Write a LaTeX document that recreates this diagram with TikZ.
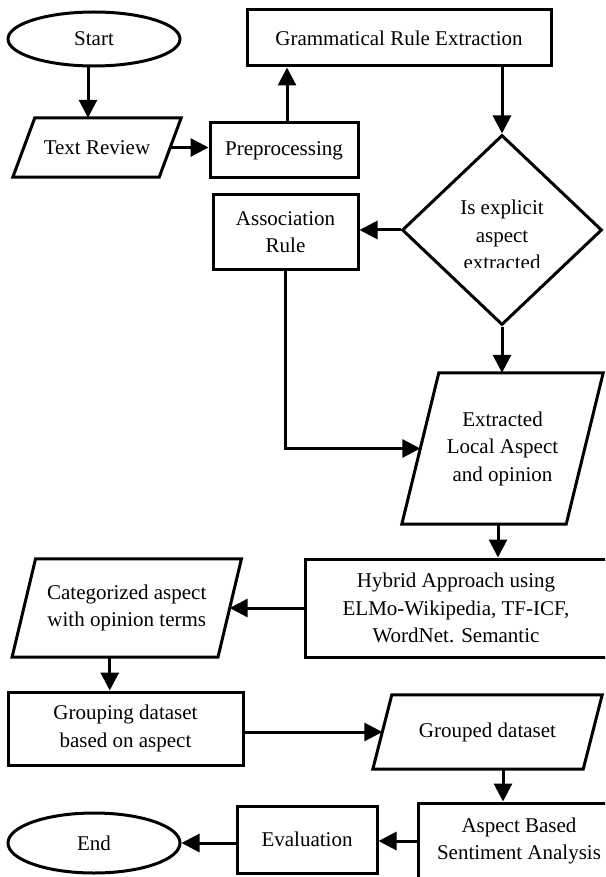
\documentclass[tikz,border=0pt]{standalone}
\usepackage{fontspec}
\setmainfont{Liberation Serif}
\usetikzlibrary{shapes.geometric,arrows.meta}
\newcommand\paraline[2]{\draw[outline] ([xshift=#2]#1.north west) -- ([xshift=#2]#1.north east) -- ([xshift=-#2]#1.south east) -- ([xshift=-#2]#1.south west) -- cycle;}
\begin{document}
\begin{tikzpicture}[x=1pt,y=-1pt,
  every node/.style={font=\fontsize{21}{27.5}\selectfont, align=center, inner sep=0pt},
  outline/.style={draw, line width=3pt, line join=miter},
  box/.style={rectangle, outline},
  para/.style={rectangle},
  oval/.style={ellipse, outline},
  arr/.style={line width=3pt, -{Triangle[length=18pt 0,width=18pt 0]}}
]
\clip (0,0) rectangle (605,877);
\fill[white] (0,0) rectangle (605,877);

% nodes
\node[oval, minimum width=172pt, minimum height=54pt] (start) at (94,39) {Start};
\node[para, minimum width=146pt, minimum height=59pt] (textrev) at (97,147.5) {Text Review};
\paraline{textrev}{11pt}
\node[box, minimum width=148pt, minimum height=55pt] (preproc) at (284,150.5) {Preprocessing};
\node[box, minimum width=304pt, minimum height=56pt] (gram) at (399,38) {Grammatical Rule Extraction};
\node[diamond, outline, minimum width=200pt, minimum height=190pt] (dec) at (502,230) {};
\begin{scope}
  \clip (402,120) rectangle (602,267);
  \node (dtext) at (502,235) {Is explicit\\aspect\\extracted};
\end{scope}
\node[box, minimum width=145pt, minimum height=74pt] (assoc) at (285.5,232) {Association\\Rule};
\node[para, minimum width=164pt, minimum height=151pt] (extr) at (502.5,448.5) {Extracted\\Local Aspect\\and opinion};
\paraline{extr}{18.5pt}
\node[box, minimum width=302pt, minimum height=98pt] (hybrid) at (456,608) {Hybrid Approach using\\ELMo-Wikipedia, TF-ICF,\\WordNet. Semantic};
\node[para, minimum width=205.5pt, minimum height=98pt] (cat) at (126.75,608) {Categorized aspect\\with opinion terms};
\paraline{cat}{11.75pt}
\node[box, minimum width=235pt, minimum height=73pt] (group) at (125.5,728.5) {Grouping dataset\\based on aspect};
\node[para, minimum width=210pt, minimum height=74pt] (grouped) at (487.5,732) {Grouped dataset};
\paraline{grouped}{9.5pt}
\node[box, minimum width=202pt, minimum height=76pt] (aspect) at (519,841) {Aspect Based\\Sentiment Analysis};
\node[box, minimum width=140pt, minimum height=67pt] (eval) at (307,839.5) {Evaluation};
\node[oval, minimum width=172pt, minimum height=60pt] (endn) at (94,843) {End};

% connectors
\draw[arr] ([xshift=-6pt]start.south) -- ([xshift=-6pt]start.south |- textrev.north);
\draw[arr] (textrev.east) -- (textrev.east -| preproc.west);
\draw[arr] ([xshift=3pt]preproc.north) -- ([xshift=3pt]preproc.north |- gram.south);
\draw[arr] (dec.north |- gram.south) -- (dec.north);
\draw[arr] (dec.west) -- (assoc.east |- dec.west);
\draw[arr] (dec.south) -- (dec.south |- extr.north);
\draw[arr] (assoc.south) |- (extr.west);
\draw[arr] ([xshift=-4.5pt]extr.south) -- ([xshift=-4.5pt]extr.south |- hybrid.north);
\draw[arr] (hybrid.west) -- (cat.east |- hybrid.west);
\draw[arr] ([xshift=-17pt]cat.south) -- ([xshift=-17pt]cat.south |- group.north);
\draw[arr] (group.east |- grouped.west) -- (grouped.west);
\draw[arr] ([xshift=15.5pt]grouped.south) -- ([xshift=15.5pt]grouped.south |- aspect.north);
\draw[arr] (aspect.west) -- (eval.east |- aspect.west);
\draw[arr] (eval.west |- endn.east) -- (endn.east);
\end{tikzpicture}
\end{document}
